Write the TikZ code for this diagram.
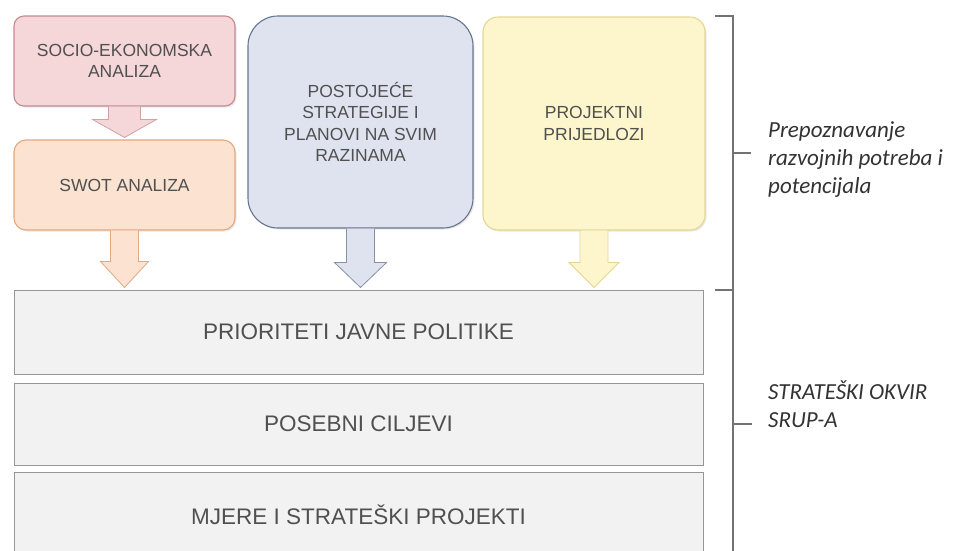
\documentclass[tikz,border=0pt]{standalone}
\usepackage{fontspec}
\setmainfont{Liberation Sans}
\newfontfamily\labelfont{Carlito}
\usetikzlibrary{calc,shadows}

\definecolor{socioFill}{RGB}{245,214,217}
\definecolor{socioLine}{RGB}{196,138,143}
\definecolor{swotFill}{RGB}{251,226,209}
\definecolor{swotLine}{RGB}{226,168,128}
\definecolor{stratFill}{RGB}{222,227,239}
\definecolor{stratLine}{RGB}{104,117,142}
\definecolor{projFill}{RGB}{253,246,204}
\definecolor{projLine}{RGB}{228,214,146}
\definecolor{barFill}{RGB}{242,242,242}
\definecolor{barLine}{RGB}{150,150,150}
\definecolor{textGray}{RGB}{80,80,80}

% block arrow: style, from, to, half shaft, half head, head length
\newcommand{\blockarrow}[6]{%
  \filldraw[#1] let \p1=(#2), \p2=(#3) in
    (\x1-#4pt,\y1) -- (\x1-#4pt,\y2+#6pt+2pt) -- (\x1-#5pt,\y2+#6pt+2pt)
    -- (\x1,\y2+2pt) -- (\x1+#5pt,\y2+#6pt+2pt) -- (\x1+#4pt,\y2+#6pt+2pt)
    -- (\x1+#4pt,\y1);}

\begin{document}
\begin{tikzpicture}[
  x=1pt, y=-1pt,
  box/.style={draw, line width=1.1pt, align=center, text=textGray,
    font=\fontsize{17.5}{21.5}\selectfont,
    drop shadow={opacity=0.18, shadow xshift=1.5pt, shadow yshift=-1.5pt}},
  bar/.style={draw=barLine, fill=barFill, line width=1pt, text=textGray,
    minimum width=689pt, font=\fontsize{22.5}{26}\selectfont},
  bracket/.style={draw=black!55, line width=1.6pt},
  sidelabel/.style={anchor=west, align=left, inner sep=0pt, text=black!80,
    font=\labelfont\itshape\fontsize{23}{28}\selectfont},
]
  \useasboundingbox (0,0) rectangle (958,550);

  % top row
  \node[box, fill=socioFill, draw=socioLine, rounded corners=10pt,
    minimum width=221pt, minimum height=90pt] (socio) at (124.5,61)
    {SOCIO-EKONOMSKA\\ANALIZA};
  \node[box, fill=swotFill, draw=swotLine, rounded corners=12pt,
    minimum width=221pt, minimum height=90pt] (swot) at (124.5,185)
    {SWOT ANALIZA};
  \node[box, fill=stratFill, draw=stratLine, rounded corners=30pt,
    minimum width=225pt, minimum height=212pt] (strat) at (360.5,122)
    {POSTOJEĆE\\STRATEGIJE I\\PLANOVI NA SVIM\\RAZINAMA};
  \node[box, fill=projFill, draw=projLine, rounded corners=15pt,
    minimum width=222pt, minimum height=213pt] (proj) at (594,123.5)
    {PROJEKTNI\\PRIJEDLOZI};

  % strateski okvir
  \foreach \name/\ypos/\h/\txt in {prio/332/84/PRIORITETI JAVNE POLITIKE,
      cilj/424/82/POSEBNI CILJEVI, mjere/515/86/MJERE I STRATEŠKI PROJEKTI}
  {
    \node[bar, minimum height=\h pt] (\name) at (358.5,\ypos) {\txt};
  }

  % arrows
  \blockarrow{fill=socioFill, draw=socioLine!80, line width=0.8pt}{socio.south}{swot.north}{16}{32}{18}
  \blockarrow{fill=swotFill, draw=swotLine, line width=0.8pt}{swot.south}{prio.north}{14}{24}{26}
  \blockarrow{fill=stratFill, draw=stratLine!80, line width=0.8pt}{strat.south}{prio.north}{14}{26}{25}
  \blockarrow{fill=projFill, draw=projLine, line width=0.8pt}{proj.south}{prio.north}{14}{25}{25}

  % brackets
  \draw[bracket] (715,16) -- (733,16) -- (733,560);
  \draw[bracket] (715,290) -- (733,290);
  \draw[bracket] (733,153) -- (751,153);
  \draw[bracket] (733,424) -- (752,424);

  \node[sidelabel] (potrebe) at (768,160)
    {Prepoznavanje\\razvojnih potreba i\\potencijala};
  \node[sidelabel] (okvir) at (768,404) {STRATEŠKI OKVIR\\SRUP-A};
\end{tikzpicture}
\end{document}
